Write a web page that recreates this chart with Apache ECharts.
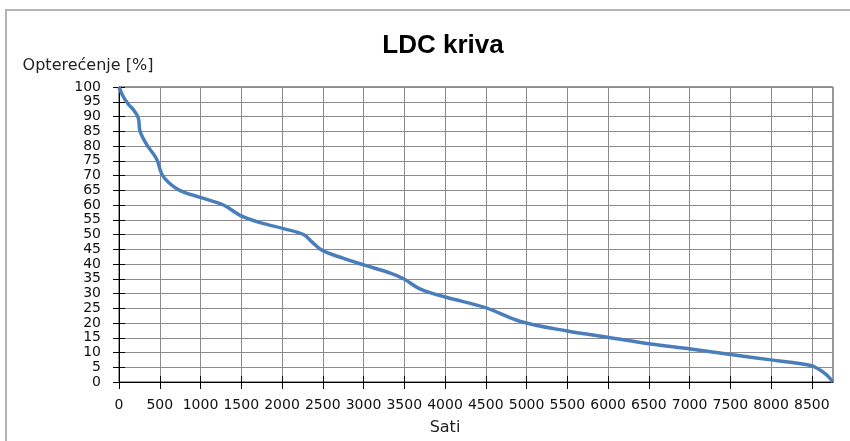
<!DOCTYPE html>
<html>
<head>
<meta charset="utf-8">
<script src="https://cdn.jsdelivr.net/npm/echarts@6/dist/echarts.min.js"></script>
<style>
html,body{margin:0;padding:0;background:#fff;}
#chart{width:850px;height:441px;}
</style>
</head>
<body>
<div id="chart"></div>
<script>
// Data
var hours = [0, 53, 120, 176, 237, 258, 340, 463, 524, 606, 749, 995, 1281, 1486, 1732, 2018, 2264, 2367, 2490, 2755, 3001, 3329, 3492, 3697, 4004, 4496, 4926, 5499, 6011, 6523, 7014, 7505, 7997, 8488, 8611, 8690, 8760];
var load  = [100, 96.7, 94, 92.3, 89.5, 85, 80.5, 75.5, 70.5, 67.7, 64.9, 62.6, 60, 56.5, 54, 52, 50, 47.5, 44.7, 41.9, 39.7, 36.9, 35, 31.5, 28.8, 25.2, 20.5, 17.3, 15.1, 12.9, 11.2, 9.3, 7.5, 5.6, 3.9, 2.2, 0];
var xTicks = [0, 500, 1000, 1500, 2000, 2500, 3000, 3500, 4000, 4500, 5000, 5500, 6000, 6500, 7000, 7500, 8000, 8500];
var xMax = 8760;
var titleText = 'LDC kriva';
var yName = 'Opterećenje [%]';
var xName = 'Sati';

var pts = hours.map(function (h, i) { return [h, load[i]]; });

var chart = echarts.init(document.getElementById('chart'), null, {renderer: 'canvas'});
var labelFont = {fontFamily: 'DejaVu Sans', fontSize: 14, color: '#111'};
var plain = function (v) { return String(v); };
chart.setOption({
  animation: false,
  backgroundColor: '#fff',
  graphic: [{
    type: 'rect', silent: true, z: -10,
    shape: {x: 6, y: 10, width: 900, height: 500},
    style: {fill: 'none', stroke: '#b4b4b4', lineWidth: 2}
  }],
  title: {
    text: titleText, left: 438, top: 28, textAlign: 'center',
    textStyle: {fontFamily: 'Liberation Sans', fontWeight: 'bold', fontSize: 26, color: '#000'}
  },
  grid: {left: 119, right: 17, top: 87, bottom: 56, show: true, borderColor: '#333', borderWidth: 1, backgroundColor: 'transparent'},
  xAxis: [{
    type: 'value', min: 0, max: xMax, interval: 500,
    name: xName, nameLocation: 'middle', nameGap: 38,
    nameTextStyle: {fontFamily: 'DejaVu Sans', fontSize: 16, color: '#222', padding: [0, 62, 0, 0]},
    axisLine: {show: true, onZero: false, lineStyle: {color: '#000', width: 1}},
    axisTick: {show: true, length: 7, lineStyle: {color: '#000'}, customValues: xTicks},
    axisLabel: Object.assign({margin: 16, customValues: xTicks, formatter: plain}, labelFont),
    splitLine: {show: true, lineStyle: {color: '#8c8c8c', width: 1}}
  }, {
    type: 'value', min: 0, max: xMax, position: 'bottom',
    axisLine: {show: false},
    axisTick: {show: true, inside: true, length: 6, lineStyle: {color: '#000'}, customValues: xTicks},
    axisLabel: {show: false},
    splitLine: {show: false}
  }],
  yAxis: [{
    type: 'value', min: 0, max: 100, interval: 5,
    name: yName, nameLocation: 'end', nameGap: 13,
    nameTextStyle: {fontFamily: 'DejaVu Sans', fontSize: 16, color: '#222', align: 'center', padding: [0, 62, 0, 0]},
    axisLine: {show: true, onZero: false, lineStyle: {color: '#000', width: 1}},
    axisTick: {show: true, length: 6, lineStyle: {color: '#000'}},
    axisLabel: Object.assign({margin: 18, formatter: plain}, labelFont),
    splitLine: {show: true, lineStyle: {color: '#8c8c8c', width: 1}}
  }, {
    type: 'value', min: 0, max: 100, interval: 5, position: 'left',
    axisLine: {show: false},
    axisTick: {show: true, inside: true, length: 6, lineStyle: {color: '#000'}},
    axisLabel: {show: false},
    splitLine: {show: false}
  }],
  series: [{
    type: 'line', xAxisIndex: 0, yAxisIndex: 0,
    data: pts, smooth: 0.35, showSymbol: false,
    lineStyle: {color: '#4a7ebb', width: 3.5},
    clip: false
  }]
});
</script>
</body>
</html>
